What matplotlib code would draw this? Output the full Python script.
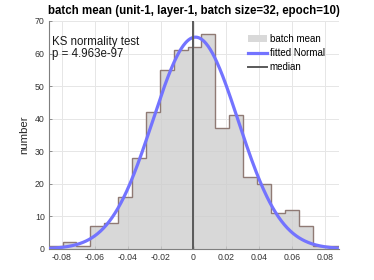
import numpy as np
import matplotlib
matplotlib.use("Agg")
import matplotlib.pyplot as plt
from matplotlib.patches import Patch
from matplotlib.lines import Line2D

plt.rcParams['font.family'] = ['Liberation Sans', 'DejaVu Sans']

# histogram data
bin_edges = np.linspace(-0.0879, 0.0891, 22)
counts = [1, 2, 1, 7, 8, 16, 28, 42, 55, 61, 62, 66, 37, 41, 22, 20, 11, 12, 7, 1, 1]
fit_mu = 0.0012
fit_sigma = 0.0259
median_val = -0.0003
p_text = "p = 4.963e-97"
x_ticks = [-0.08, -0.06, -0.04, -0.02, 0, 0.02, 0.04, 0.06, 0.08]
x_ticklabels = ["-0.08", "-0.06", "-0.04", "-0.02", "0", "0.02", "0.04", "0.06", "0.08"]
y_ticks = [0, 10, 20, 30, 40, 50, 60, 70]

fig = plt.figure(figsize=(3.74, 2.80), dpi=100)
ax = fig.add_axes([0.131, 0.111, 0.775, 0.814])

ax.stairs(counts, bin_edges, fill=True, facecolor='#cccccc', alpha=0.75, edgecolor='none', zorder=2)
ax.stairs(counts, bin_edges, fill=False, edgecolor='#8f7a74', linewidth=1.0, zorder=3)

n_total = sum(counts)
bw = bin_edges[1] - bin_edges[0]
xs = np.linspace(-0.0877, 0.0882, 400)
ys = n_total * bw / (fit_sigma * np.sqrt(2 * np.pi)) * np.exp(-0.5 * ((xs - fit_mu) / fit_sigma) ** 2)
ax.plot(xs, ys, color='#7373ff', linewidth=2.3, zorder=4, solid_capstyle='butt')
ax.plot([median_val, median_val], [0, 70], color='#595959', linewidth=1.4, zorder=5)

ax.set_xlim(-0.0877, 0.0882)
ax.set_ylim(0, 70)
ax.set_xticks(x_ticks)
ax.set_xticklabels(x_ticklabels)
ax.set_yticks(y_ticks)
ax.grid(True, color='#e6e6e6', linewidth=0.7, zorder=0)
ax.set_axisbelow(True)
for s in ['top', 'right']:
    ax.spines[s].set_visible(False)
for s in ['left', 'bottom']:
    ax.spines[s].set_color('#7f7f7f')
    ax.spines[s].set_linewidth(0.8)
ax.tick_params(direction='in', length=2, width=0.6, color='#7f7f7f', labelsize=6.3, labelcolor='#333333', pad=3)
ax.set_ylabel('number', fontsize=8.2, color='#262626', labelpad=4)
ax.set_title('batch mean (unit-1, layer-1, batch size=32, epoch=10)', fontsize=8.3, fontweight='bold', pad=5)

ax.text(0.012, 0.935, 'KS normality test\n' + p_text, transform=ax.transAxes, fontsize=8.3,
        va='top', ha='left', linespacing=1.05, color='#1a1a1a')

handles = [Patch(facecolor='#d9d9d9', edgecolor='none'),
           Line2D([0], [0], color='#7373ff', lw=2.3),
           Line2D([0], [0], color='#595959', lw=1.4)]
ax.legend(handles, ['batch mean', 'fitted Normal', 'median'], loc='upper left', frameon=False,
          fontsize=7, handlelength=1.95, handletextpad=0.3, labelspacing=0.45,
          bbox_to_anchor=(0.686, 0.945), borderaxespad=0, borderpad=0)

fig.savefig('out.png', dpi=100)
